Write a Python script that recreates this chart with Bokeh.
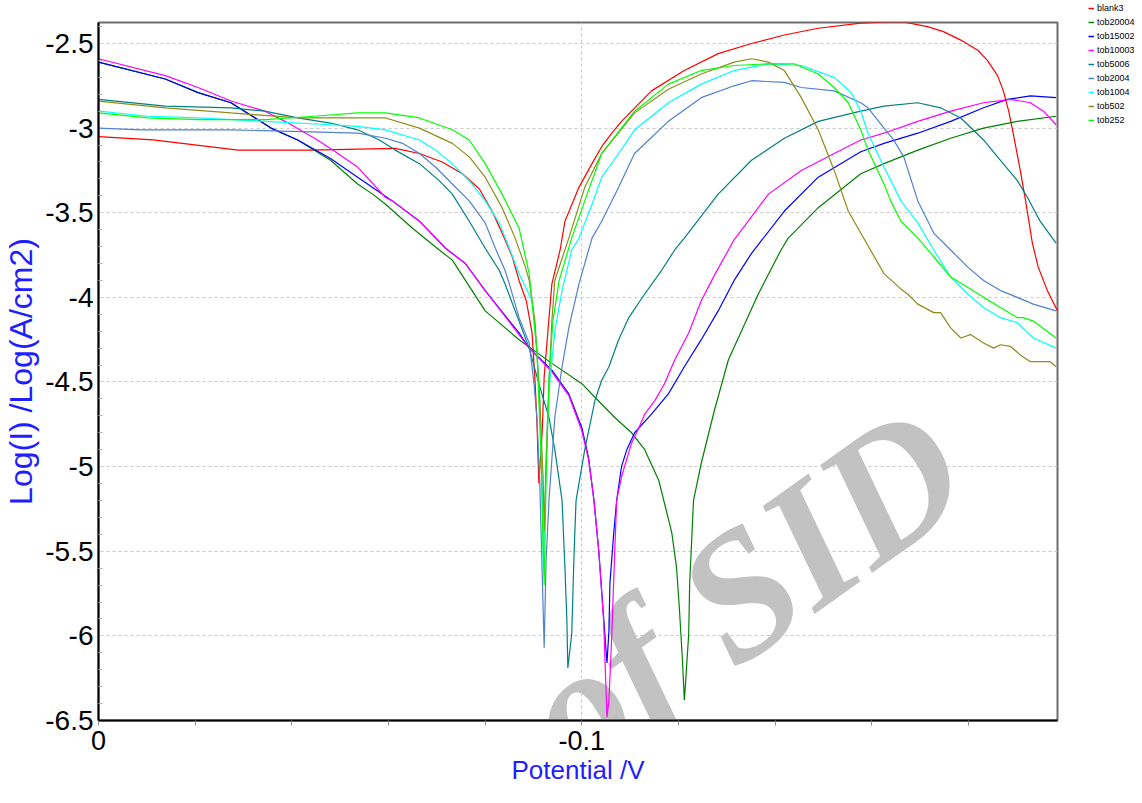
from bokeh.plotting import figure
from bokeh.layouts import row, column
from bokeh.models import (Range1d, FixedTicker, CustomJSTickFormatter, Legend,
                          LegendItem, Label)
from bokeh.embed import file_html
from bokeh.resources import INLINE

# ---------------- data (Potential / V , Log(I) / Log(A/cm2)) ----------------
series_names = ["blank3", "tob20004", "tob15002", "tob10003", "tob5006",
                "tob2004", "tob1004", "tob502", "tob252"]
series_colors = ["#FF0000", "#008000", "#0000FF", "#FF00FF", "#008080",
                 "#5080D0", "#00FFFF", "#8C8C1A", "#00FF00"]

blank3_E = [0, -0.0113, -0.0289, -0.0439, -0.0614, -0.0664, -0.0711, -0.0753, -0.0788, -0.0814,
            -0.0835, -0.0856, -0.0870, -0.0885, -0.0897, -0.0903, -0.0907, -0.0911, -0.0918, -0.0922,
            -0.0932, -0.0938, -0.0955, -0.0965, -0.0994, -0.1021, -0.1041, -0.1062, -0.1082, -0.1144,
            -0.1212, -0.1282, -0.1351, -0.1419, -0.1489, -0.1577, -0.1660, -0.1715, -0.1748, -0.1784,
            -0.1819, -0.1839, -0.1860, -0.1872, -0.1883, -0.1893, -0.1907, -0.1918, -0.1932, -0.1944,
            -0.1963, -0.1984]
blank3_logI = [-3.05, -3.07, -3.13, -3.13, -3.12, -3.15, -3.20, -3.27, -3.36, -3.49,
               -3.62, -3.76, -3.90, -4.02, -4.21, -4.49, -4.73, -5.10, -4.79, -4.47,
               -4.12, -3.92, -3.72, -3.55, -3.35, -3.21, -3.11, -3.03, -2.96, -2.78,
               -2.66, -2.56, -2.50, -2.45, -2.41, -2.38, -2.37, -2.40, -2.43, -2.48,
               -2.54, -2.60, -2.69, -2.78, -2.90, -3.04, -3.25, -3.43, -3.68, -3.82,
               -3.96, -4.08]

tob20004_E = [0, -0.0138, -0.0206, -0.0274, -0.0357, -0.0412, -0.0480, -0.0536, -0.0567, -0.0594,
              -0.0649, -0.0705, -0.0732, -0.0800, -0.0870, -0.0938, -0.1000, -0.1027, -0.1068, -0.1103,
              -0.1130, -0.1159, -0.1186, -0.1196, -0.1202, -0.1208, -0.1212, -0.1214, -0.1221, -0.1223,
              -0.1231, -0.1247, -0.1274, -0.1303, -0.1330, -0.1365, -0.1412, -0.1427, -0.1489, -0.1577,
              -0.1625, -0.1695, -0.1763, -0.1831, -0.1901, -0.1981]
tob20004_logI = [-2.61, -2.71, -2.79, -2.85, -3.00, -3.07, -3.19, -3.33, -3.39, -3.45,
                 -3.59, -3.72, -3.78, -4.08, -4.25, -4.39, -4.51, -4.59, -4.71, -4.80,
                 -4.90, -5.08, -5.39, -5.60, -5.85, -6.14, -6.38, -6.30, -5.99, -5.69,
                 -5.20, -4.98, -4.67, -4.37, -4.20, -3.98, -3.72, -3.65, -3.47, -3.27,
                 -3.21, -3.13, -3.06, -3.00, -2.96, -2.93]

tob15002_E = [0, -0.0138, -0.0206, -0.0274, -0.0357, -0.0412, -0.0480, -0.0536, -0.0608, -0.0664,
              -0.0718, -0.0759, -0.0800, -0.0870, -0.0891, -0.0938, -0.0973, -0.1000, -0.1014, -0.1025,
              -0.1035, -0.1045, -0.1052, -0.1056, -0.1058, -0.1066, -0.1072, -0.1082, -0.1093, -0.1109,
              -0.1144, -0.1179, -0.1212, -0.1247, -0.1282, -0.1315, -0.1351, -0.1419, -0.1489, -0.1577,
              -0.1625, -0.1695, -0.1763, -0.1831, -0.1880, -0.1928, -0.1981]
tob15002_logI = [-2.61, -2.71, -2.79, -2.85, -3.00, -3.07, -3.18, -3.29, -3.43, -3.55,
                 -3.71, -3.80, -3.96, -4.21, -4.30, -4.43, -4.57, -4.77, -4.95, -5.20,
                 -5.50, -5.89, -6.16, -5.97, -5.69, -5.39, -5.20, -5.00, -4.90, -4.80,
                 -4.69, -4.57, -4.41, -4.25, -4.08, -3.90, -3.74, -3.49, -3.29, -3.14,
                 -3.09, -3.03, -2.96, -2.88, -2.83, -2.81, -2.82]

tob10003_E = [0, -0.0138, -0.0206, -0.0274, -0.0344, -0.0386, -0.0447, -0.0480, -0.0536, -0.0594,
              -0.0608, -0.0664, -0.0718, -0.0759, -0.0800, -0.0870, -0.0891, -0.0938, -0.0973, -0.1000,
              -0.1014, -0.1025, -0.1035, -0.1045, -0.1052, -0.1056, -0.1062, -0.1068, -0.1072, -0.1082,
              -0.1103, -0.1118, -0.1130, -0.1151, -0.1171, -0.1192, -0.1221, -0.1247, -0.1274, -0.1315,
              -0.1386, -0.1454, -0.1522, -0.1577, -0.1625, -0.1695, -0.1763, -0.1831, -0.1887, -0.1928,
              -0.1955, -0.1981]
tob10003_logI = [-2.59, -2.69, -2.76, -2.84, -2.90, -2.96, -3.06, -3.12, -3.23, -3.41,
                 -3.43, -3.55, -3.71, -3.80, -3.96, -4.22, -4.30, -4.44, -4.58, -4.79,
                 -4.96, -5.20, -5.50, -5.91, -6.48, -6.38, -5.99, -5.50, -5.20, -5.06,
                 -4.86, -4.77, -4.69, -4.61, -4.51, -4.37, -4.21, -4.02, -3.87, -3.66,
                 -3.39, -3.25, -3.15, -3.07, -3.03, -2.96, -2.90, -2.85, -2.83, -2.85,
                 -2.90, -2.98]

tob5006_E = [0, -0.0138, -0.0274, -0.0344, -0.0412, -0.0480, -0.0536, -0.0581, -0.0614, -0.0664,
             -0.0705, -0.0732, -0.0767, -0.0800, -0.0829, -0.0841, -0.0862, -0.0891, -0.0911, -0.0932,
             -0.0944, -0.0959, -0.0965, -0.0969, -0.0971, -0.0979, -0.0984, -0.0988, -0.1006, -0.1027,
             -0.1041, -0.1056, -0.1076, -0.1097, -0.1130, -0.1165, -0.1192, -0.1212, -0.1282, -0.1351,
             -0.1419, -0.1489, -0.1577, -0.1625, -0.1695, -0.1742, -0.1784, -0.1831, -0.1866, -0.1901,
             -0.1922, -0.1948, -0.1981]
tob5006_logI = [-2.83, -2.87, -2.88, -2.90, -2.94, -2.97, -3.01, -3.07, -3.13, -3.21,
                -3.31, -3.39, -3.55, -3.71, -3.84, -3.92, -4.08, -4.30, -4.51, -4.71,
                -4.90, -5.20, -5.60, -5.91, -6.19, -5.99, -5.50, -5.20, -4.90, -4.61,
                -4.49, -4.41, -4.25, -4.12, -3.98, -3.84, -3.72, -3.65, -3.39, -3.19,
                -3.06, -2.96, -2.90, -2.87, -2.85, -2.88, -2.94, -3.07, -3.19, -3.31,
                -3.41, -3.55, -3.68]

tob2004_E = [0, -0.0089, -0.0274, -0.0536, -0.0594, -0.0629, -0.0664, -0.0697, -0.0732, -0.0767,
             -0.0800, -0.0821, -0.0841, -0.0850, -0.0870, -0.0891, -0.0901, -0.0907, -0.0913, -0.0922,
             -0.0926, -0.0932, -0.0944, -0.0959, -0.0973, -0.0994, -0.1021, -0.1041, -0.1076, -0.1109,
             -0.1179, -0.1247, -0.1315, -0.1351, -0.1419, -0.1454, -0.1522, -0.1577, -0.1592, -0.1625,
             -0.1645, -0.1666, -0.1695, -0.1728, -0.1763, -0.1798, -0.1831, -0.1866, -0.1901, -0.1934,
             -0.1981]
tob2004_logI = [-3.00, -3.01, -3.01, -3.03, -3.06, -3.09, -3.15, -3.23, -3.33, -3.43,
                -3.56, -3.71, -3.84, -3.92, -4.12, -4.27, -4.51, -4.71, -5.10, -6.07,
                -5.55, -5.20, -4.71, -4.41, -4.18, -3.92, -3.65, -3.55, -3.35, -3.15,
                -2.96, -2.82, -2.75, -2.72, -2.73, -2.76, -2.78, -2.85, -2.88, -3.00,
                -3.07, -3.17, -3.43, -3.62, -3.72, -3.82, -3.90, -3.96, -4.00, -4.04,
                -4.08]

tob1004_E = [0, -0.0103, -0.0206, -0.0344, -0.0480, -0.0536, -0.0594, -0.0664, -0.0697, -0.0732,
             -0.0767, -0.0800, -0.0829, -0.0850, -0.0870, -0.0897, -0.0907, -0.0913, -0.0918, -0.0920,
             -0.0924, -0.0928, -0.0934, -0.0944, -0.0959, -0.0979, -0.0994, -0.1021, -0.1041, -0.1076,
             -0.1109, -0.1179, -0.1247, -0.1315, -0.1386, -0.1454, -0.1522, -0.1557, -0.1577, -0.1592,
             -0.1625, -0.1660, -0.1695, -0.1728, -0.1763, -0.1798, -0.1831, -0.1866, -0.1901, -0.1934,
             -0.1981]
tob1004_logI = [-2.90, -2.93, -2.94, -2.96, -2.98, -2.99, -3.01, -3.07, -3.13, -3.21,
                -3.31, -3.43, -3.56, -3.71, -3.86, -4.02, -4.31, -4.61, -5.08, -5.61,
                -5.20, -4.79, -4.49, -4.20, -3.96, -3.72, -3.65, -3.45, -3.29, -3.15,
                -3.01, -2.85, -2.74, -2.66, -2.62, -2.63, -2.70, -2.79, -2.90, -3.03,
                -3.23, -3.43, -3.56, -3.72, -3.88, -3.98, -4.06, -4.12, -4.15, -4.24,
                -4.30]

tob502_E = [0, -0.0138, -0.0274, -0.0412, -0.0536, -0.0594, -0.0664, -0.0732, -0.0767, -0.0800,
            -0.0835, -0.0862, -0.0883, -0.0891, -0.0903, -0.0913, -0.0920, -0.0922, -0.0926, -0.0932,
            -0.0938, -0.0944, -0.0973, -0.1006, -0.1041, -0.1109, -0.1179, -0.1247, -0.1315, -0.1351,
            -0.1386, -0.1419, -0.1454, -0.1489, -0.1522, -0.1551, -0.1577, -0.1625, -0.1660, -0.1674,
            -0.1695, -0.1728, -0.1742, -0.1763, -0.1784, -0.1804, -0.1831, -0.1852, -0.1866, -0.1887,
            -0.1907, -0.1928, -0.1969, -0.1981]
tob502_logI = [-2.84, -2.88, -2.91, -2.94, -2.94, -2.94, -3.00, -3.09, -3.17, -3.29,
               -3.47, -3.65, -3.82, -3.90, -4.14, -4.61, -5.08, -5.38, -4.96, -4.49,
               -4.14, -3.90, -3.65, -3.35, -3.15, -2.91, -2.77, -2.68, -2.61, -2.59,
               -2.61, -2.66, -2.82, -3.01, -3.25, -3.49, -3.62, -3.86, -3.95, -3.98,
               -4.04, -4.09, -4.09, -4.18, -4.24, -4.22, -4.27, -4.30, -4.28, -4.29,
               -4.34, -4.38, -4.38, -4.41]

tob252_E = [0, -0.0103, -0.0206, -0.0344, -0.0447, -0.0536, -0.0594, -0.0664, -0.0732, -0.0767,
            -0.0800, -0.0835, -0.0870, -0.0891, -0.0907, -0.0915, -0.0922, -0.0926, -0.0932, -0.0940,
            -0.0953, -0.0979, -0.1006, -0.1041, -0.1109, -0.1179, -0.1247, -0.1315, -0.1386, -0.1439,
            -0.1489, -0.1522, -0.1551, -0.1577, -0.1592, -0.1625, -0.1639, -0.1660, -0.1695, -0.1728,
            -0.1763, -0.1798, -0.1831, -0.1866, -0.1901, -0.1913, -0.1934, -0.1981]
tob252_logI = [-2.91, -2.94, -2.95, -2.95, -2.93, -2.91, -2.91, -2.94, -3.01, -3.07,
               -3.21, -3.39, -3.59, -3.86, -4.31, -4.90, -5.70, -5.08, -4.49, -4.14,
               -3.90, -3.65, -3.43, -3.15, -2.90, -2.74, -2.66, -2.63, -2.62, -2.62,
               -2.68, -2.76, -2.85, -3.01, -3.13, -3.33, -3.43, -3.55, -3.65, -3.76,
               -3.88, -3.94, -4.00, -4.06, -4.12, -4.12, -4.14, -4.24]

series_E = [blank3_E, tob20004_E, tob15002_E, tob10003_E, tob5006_E,
            tob2004_E, tob1004_E, tob502_E, tob252_E]
series_logI = [blank3_logI, tob20004_logI, tob15002_logI, tob10003_logI, tob5006_logI,
               tob2004_logI, tob1004_logI, tob502_logI, tob252_logI]

x_major = [0, -0.1]
x_minor = [-0.02, -0.04, -0.06, -0.08, -0.12, -0.14, -0.16, -0.18]
y_major = [-2.5, -3, -3.5, -4, -4.5, -5, -5.5, -6, -6.5]
y_minor = [-2.4, -2.6, -2.7, -2.8, -2.9, -3.1, -3.2, -3.3, -3.4, -3.6, -3.7, -3.8, -3.9,
           -4.1, -4.2, -4.3, -4.4, -4.6, -4.7, -4.8, -4.9, -5.1, -5.2, -5.3, -5.4,
           -5.6, -5.7, -5.8, -5.9, -6.1, -6.2, -6.3, -6.4]

# ---------------- main figure ----------------
FONT = "Liberation Sans"
BLUE = "#1E1EFF"
p = figure(width=1085, height=787, output_backend="svg", toolbar_location=None,
           x_range=Range1d(0, -0.1984), y_range=Range1d(-6.5, -2.376),
           min_border_left=95, min_border_right=28, min_border_top=22,
           min_border_bottom=67, background_fill_color="white",
           border_fill_color="white")
p.outline_line_color = "#6E6E6E"
p.outline_line_width = 2

fmt = CustomJSTickFormatter(code="return tick.toString();")

p.xaxis.ticker = FixedTicker(ticks=x_major, minor_ticks=x_minor)
p.xaxis.formatter = fmt
p.xaxis.axis_line_color = "black"
p.xaxis.axis_line_width = 2
p.xaxis.major_tick_in = 0
p.xaxis.major_tick_out = 5
p.xaxis.minor_tick_in = 0
p.xaxis.minor_tick_out = 5
p.xaxis.major_tick_line_color = "#8A8A8A"
p.xaxis.minor_tick_line_color = "#8A8A8A"
p.xaxis.major_label_text_font = FONT
p.xaxis.major_label_text_font_size = "27px"
p.xaxis.major_label_text_color = "black"
p.xaxis.major_label_standoff = 5
p.xaxis.axis_label = "Potential /V"
p.xaxis.axis_label_text_font = FONT
p.xaxis.axis_label_text_font_size = "26px"
p.xaxis.axis_label_text_font_style = "normal"
p.xaxis.axis_label_text_color = BLUE
p.xaxis.axis_label_standoff = 2

p.yaxis.ticker = FixedTicker(ticks=y_major, minor_ticks=y_minor)
p.yaxis.formatter = fmt
p.yaxis.axis_line_color = "black"
p.yaxis.axis_line_width = 2
p.yaxis.major_tick_in = 0
p.yaxis.major_tick_out = 0
p.yaxis.minor_tick_in = 4
p.yaxis.minor_tick_out = 0
p.yaxis.minor_tick_line_color = "#B0B0B0"
p.yaxis.major_label_text_font = FONT
p.yaxis.major_label_text_font_size = "28px"
p.yaxis.major_label_text_color = "black"
p.yaxis.major_label_standoff = 5
p.yaxis.axis_label = "Log(I) /Log(A/cm2)"
p.yaxis.axis_label_text_font = FONT
p.yaxis.axis_label_text_font_size = "32px"
p.yaxis.axis_label_text_font_style = "normal"
p.yaxis.axis_label_text_color = BLUE
p.yaxis.axis_label_standoff = 3

for g in (p.xgrid, p.ygrid):
    g.grid_line_color = "#C8C8C8"
    g.grid_line_dash = "3 3"
    g.grid_line_width = 1

# watermark
p.add_layout(Label(x=-0.0915, y=-6.587, text="of SID", angle=0.62,
                   text_font="Liberation Serif", text_font_style="bold italic",
                   text_font_size="180px", text_color="#C2C2C2",
                   text_align="left", text_baseline="alphabetic", level="underlay"))

for E, L, c in zip(series_E, series_logI, series_colors):
    n = min(len(E), len(L))
    p.line(E[:n], L[:n], line_color=c, line_width=1.2)

# ---------------- legend panel ----------------
q = figure(width=49, height=787, output_backend="svg", toolbar_location=None,
           title=None, x_range=Range1d(0, 1), y_range=Range1d(0, 1),
           x_axis_location=None, y_axis_location=None,
           min_border_left=0, min_border_right=0, min_border_top=0, min_border_bottom=0,
           outline_line_color=None, background_fill_color="white",
           border_fill_color="white")
q.xgrid.visible = False
q.ygrid.visible = False
nan = float("nan")
items = []
for name, c in zip(series_names, series_colors):
    r = q.line(x=[nan, nan], y=[nan, nan], line_color=c, line_width=1.5)
    items.append(LegendItem(label=name, renderers=[r]))
legend = Legend(items=items, location="top_left", orientation="vertical",
                label_text_font=FONT, label_text_font_size="9px",
                label_text_color="black", glyph_width=6, glyph_height=8,
                label_height=10, label_standoff=3, spacing=4, padding=3, margin=0,
                background_fill_alpha=0, border_line_alpha=0)
q.add_layout(legend)

layout = row(p, column(q, spacing=0), spacing=0)
open("out.html", "w").write(file_html(layout, INLINE))
